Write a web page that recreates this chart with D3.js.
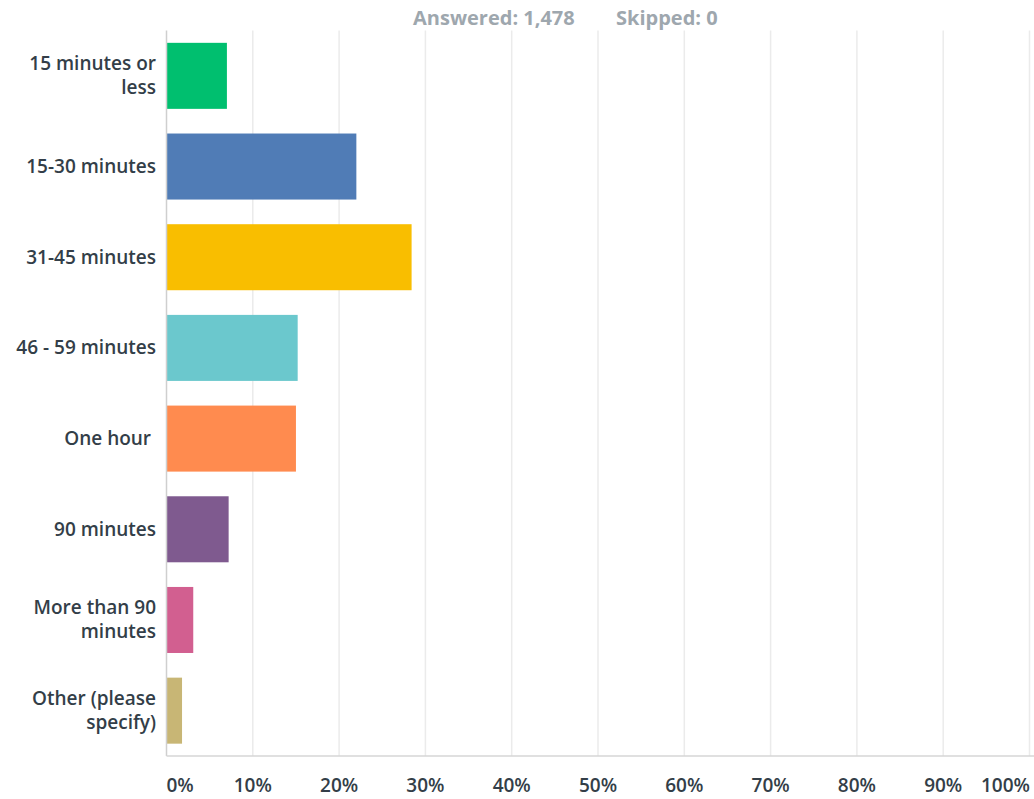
<!DOCTYPE html>
<html>
<head>
<meta charset="utf-8">
<script src="https://cdn.jsdelivr.net/npm/d3@7"></script>
<style>
  body { margin: 0; background: #fff; }
  svg { display: block; font-family: "Open Sans", "Noto Sans", sans-serif; }
  .cat { font-size: 19px; font-weight: 600; fill: #333e48; white-space: pre; }
  .tick-lbl { font-size: 19px; font-weight: 600; fill: #333e48; }
  .head { font-size: 20px; font-weight: 700; fill: #9ea7ae; }
</style>
</head>
<body>
<div id="chart"></div>
<script>
const categories = ["15 minutes or less", "15-30 minutes", "31-45 minutes", "46 - 59 minutes",
  "One hour ", "90 minutes", "More than 90 minutes", "Other (please specify)"];
const percents = [7.0, 22.0, 28.4, 15.2, 15.0, 7.2, 3.1, 1.8];
const barColors = ["#00bf6f", "#507cb6", "#f9be00", "#6bc8cd", "#ff8b4f", "#7f5a8f", "#d25f90", "#c8b675"];
const tickValues = [0, 10, 20, 30, 40, 50, 60, 70, 80, 90, 100];
const answered = "Answered: 1,478";
const skipped = "Skipped: 0";

const width = 1034, height = 799;
const margin = { top: 30.5, right: 4.5, bottom: 43, left: 166.5 };

const svg = d3.select("#chart").append("svg")
  .attr("width", width)
  .attr("height", height);

const x = d3.scaleLinear()
  .domain([0, 100])
  .range([margin.left, width - margin.right]);

const y = d3.scaleBand()
  .domain(categories)
  .range([margin.top, height - margin.bottom])
  .paddingInner(0.272)
  .paddingOuter(0.136);

// header
svg.append("text").attr("class", "head")
  .attr("x", 413).attr("y", 25).text(answered);
svg.append("text").attr("class", "head")
  .attr("x", 616).attr("y", 25).text(skipped);

// gridlines
svg.append("g")
  .selectAll("line")
  .data(tickValues.slice(1))
  .enter().append("line")
  .attr("x1", d => x(d)).attr("x2", d => x(d))
  .attr("y1", margin.top).attr("y2", height - margin.bottom)
  .attr("stroke", "#ebebeb")
  .attr("stroke-width", 1.5);

// bars
svg.append("g")
  .selectAll("rect")
  .data(categories)
  .enter().append("rect")
  .attr("x", x(0))
  .attr("y", d => y(d))
  .attr("width", (d, i) => x(percents[i]) - x(0))
  .attr("height", y.bandwidth())
  .attr("fill", (d, i) => barColors[i]);

// axis lines
svg.append("line")
  .attr("x1", x(0)).attr("x2", x(0))
  .attr("y1", margin.top).attr("y2", height - margin.bottom)
  .attr("stroke", "#cfcfcf").attr("stroke-width", 1.5);
svg.append("line")
  .attr("x1", x(0)).attr("x2", width)
  .attr("y1", height - margin.bottom).attr("y2", height - margin.bottom)
  .attr("stroke", "#d6d6d6").attr("stroke-width", 1.5);

// x tick labels, clamped to chart width
const ticks = svg.append("g")
  .selectAll("text")
  .data(tickValues)
  .enter().append("text")
  .attr("class", "tick-lbl")
  .attr("y", 792)
  .attr("text-anchor", "middle")
  .attr("x", d => x(d))
  .text(d => d + "%");

ticks.each(function(d) {
  const w = this.getComputedTextLength();
  let cx = x(d);
  if (cx - w / 2 < x(0)) cx = x(0) + w / 2;
  if (cx + w / 2 > width - 4) cx = width - 4 - w / 2;
  d3.select(this).attr("x", cx);
});

// category labels with wrapping
function wrapLines(text, maxW, node) {
  const words = text.trim().split(/\s+/);
  const lines = [];
  let cur = "";
  words.forEach(w => {
    const test = cur ? cur + " " + w : w;
    node.textContent = test;
    if (node.getComputedTextLength() > maxW && cur) {
      lines.push(cur);
      cur = w;
    } else {
      cur = test;
    }
  });
  lines.push(cur);
  if (text.endsWith(" ")) lines[lines.length - 1] += " ";
  return lines;
}

const labels = svg.append("g")
  .selectAll("text")
  .data(categories)
  .enter().append("text")
  .attr("class", "cat")
  .attr("text-anchor", "end");

labels.each(function(d) {
  const t = d3.select(this);
  const lines = wrapLines(d, 152, this);
  this.textContent = "";
  const lh = 24;
  const cy = y(d) + y.bandwidth() / 2;
  const y0 = cy - (lines.length - 1) * lh / 2 + 6.5;
  lines.forEach((ln, i) => {
    t.append("tspan")
      .attr("x", 156)
      .attr("y", y0 + i * lh)
      .text(ln);
  });
});
</script>
</body>
</html>
